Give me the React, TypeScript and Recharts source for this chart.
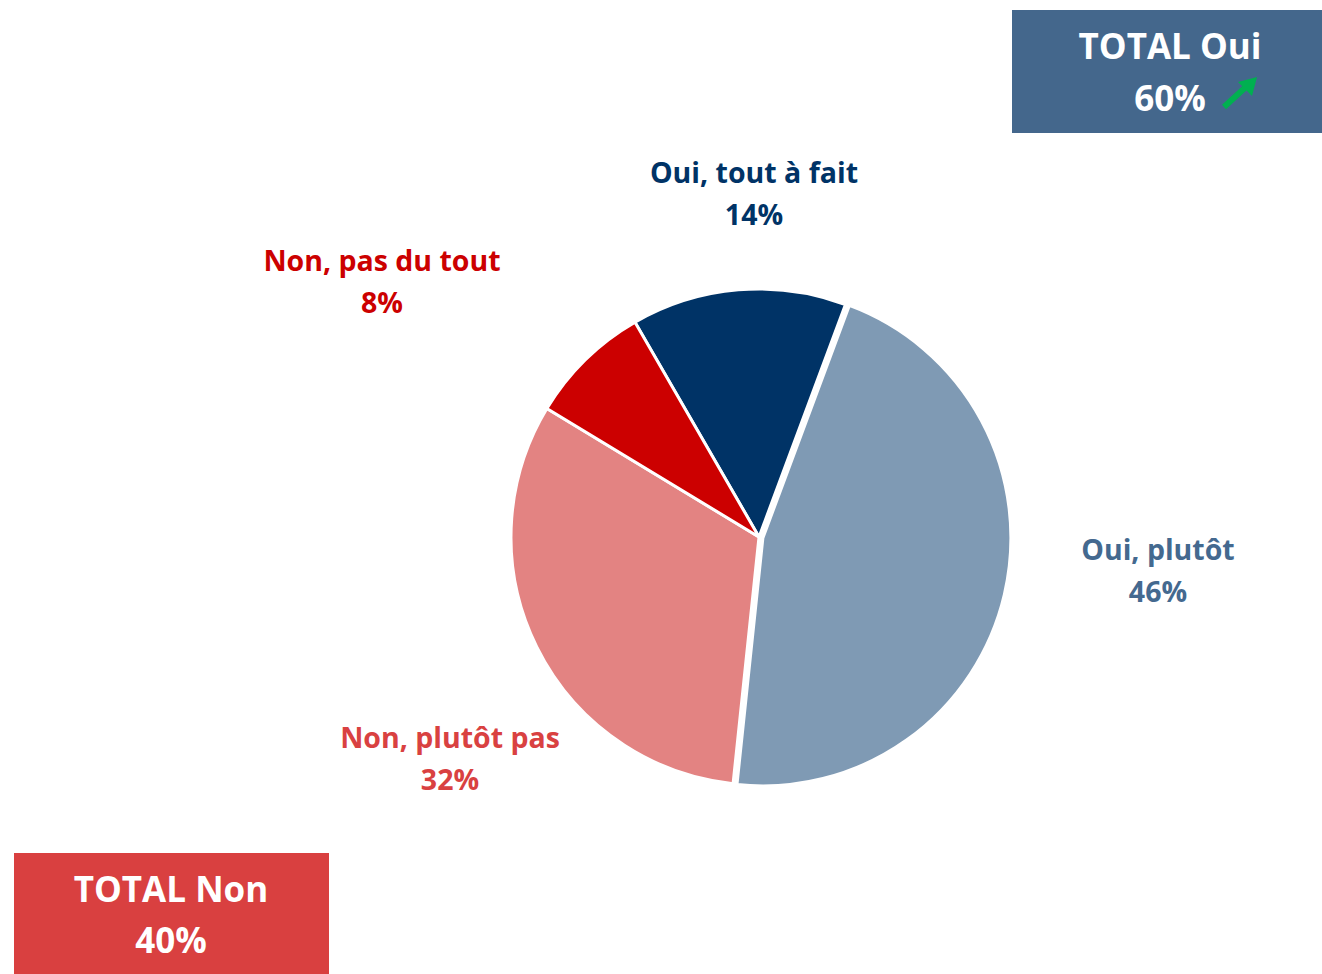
import React from "react";
import { PieChart, Pie, Cell } from "recharts";

const categories = ["Oui, tout à fait", "Oui, plutôt", "Non, plutôt pas", "Non, pas du tout"];
const values = [14, 46, 32, 8];
const labelTexts = ["14%", "46%", "32%", "8%"];
const totalOuiLabel = "TOTAL Oui";
const totalOuiValue = "60%";
const totalNonLabel = "TOTAL Non";
const totalNonValue = "40%";

const sliceColors = ["#003366", "#7f9ab4", "#e38382", "#cc0000"];
const labelColors = ["#003366", "#44698f", "#d94141", "#cc0000"];
// label block centres relative to the pie centre
const labelOffsets = [
  [-5, -343],
  [399, 34],
  [-309, 222],
  [-377, -255],
];
const explodedIndex = 1;
const explodePx = 4;

const data = categories.map((name, i) => ({ name, value: values[i], pct: labelTexts[i] }));

const FONT = "'Open Sans', Lato, sans-serif";

const RADIAN = Math.PI / 180;

const renderLabel = (props: any) => {
  const { cx, cy, index } = props;
  const [dx, dy] = labelOffsets[index];
  const x = cx + dx;
  const y = cy + dy;
  return (
    <text
      key={"lbl" + index}
      x={x}
      y={y}
      textAnchor="middle"
      fill={labelColors[index]}
      fontFamily={FONT}
      fontWeight={700}
      fontSize={28.5}
    >
      <tspan x={x} dy={-11}>{data[index].name}</tspan>
      <tspan x={x} dy={42}>{data[index].pct}</tspan>
    </text>
  );
};

export default function App() {
  const cx = 759;
  const cy = 537;
  const total = values.reduce((a, b) => a + b, 0);
  let before = 0;
  for (let i = 0; i < explodedIndex; i++) before += values[i];
  const startAngle = 120;
  const mid = startAngle - ((before + values[explodedIndex] / 2) / total) * 360;
  const ex = Math.cos(mid * RADIAN) * explodePx;
  const ey = -Math.sin(mid * RADIAN) * explodePx;

  return (
    <div style={{ position: "absolute", left: 0, top: 0, width: 1322, height: 974, background: "#fff" }}>
      <PieChart width={1322} height={974} margin={{ top: 0, right: 0, bottom: 0, left: 0 }}>
        <Pie
          data={data}
          dataKey="value"
          cx={cx}
          cy={cy}
          outerRadius={248}
          startAngle={startAngle}
          endAngle={startAngle - 360}
          stroke="#ffffff"
          strokeWidth={3}
          isAnimationActive={false}
          labelLine={false}
          label={renderLabel}
        >
          {data.map((d, i) => (
            <Cell
              key={d.name}
              fill={i === explodedIndex ? "none" : sliceColors[i]}
              stroke={i === explodedIndex ? "none" : "#ffffff"}
            />
          ))}
        </Pie>
        <Pie
          data={data}
          dataKey="value"
          cx={cx + ex}
          cy={cy + ey}
          outerRadius={248}
          startAngle={startAngle}
          endAngle={startAngle - 360}
          isAnimationActive={false}
          labelLine={false}
          label={false}
        >
          {data.map((d, i) => (
            <Cell
              key={d.name}
              fill={i === explodedIndex ? sliceColors[i] : "none"}
              stroke={i === explodedIndex ? "#ffffff" : "none"}
              strokeWidth={3}
            />
          ))}
        </Pie>
      </PieChart>

      <div
        style={{
          position: "absolute",
          left: 1012,
          top: 10,
          width: 310,
          height: 123,
          background: "#44678c",
        }}
      >
        <svg width={310} height={123} style={{ position: "absolute", left: 0, top: 0 }}>
          <text x={158} y={49} textAnchor="middle" fill="#fff" fontFamily={FONT} fontWeight={700} fontSize={35}>
            {totalOuiLabel}
          </text>
          <text x={158} y={101} textAnchor="middle" fill="#fff" fontFamily={FONT} fontWeight={700} fontSize={35}>
            {totalOuiValue}
          </text>
          <line x1={212} y1={97} x2={236} y2={75} stroke="#00b050" strokeWidth={6} />
          <polygon points="245,67 226,72 240,86" fill="#00b050" />
        </svg>
      </div>

      <div
        style={{
          position: "absolute",
          left: 14,
          top: 853,
          width: 315,
          height: 121,
          background: "#d94040",
        }}
      >
        <svg width={315} height={121} style={{ position: "absolute", left: 0, top: 0 }}>
          <text x={157} y={49} textAnchor="middle" fill="#fff" fontFamily={FONT} fontWeight={700} fontSize={35}>
            {totalNonLabel}
          </text>
          <text x={157} y={100} textAnchor="middle" fill="#fff" fontFamily={FONT} fontWeight={700} fontSize={35}>
            {totalNonValue}
          </text>
        </svg>
      </div>
    </div>
  );
}
